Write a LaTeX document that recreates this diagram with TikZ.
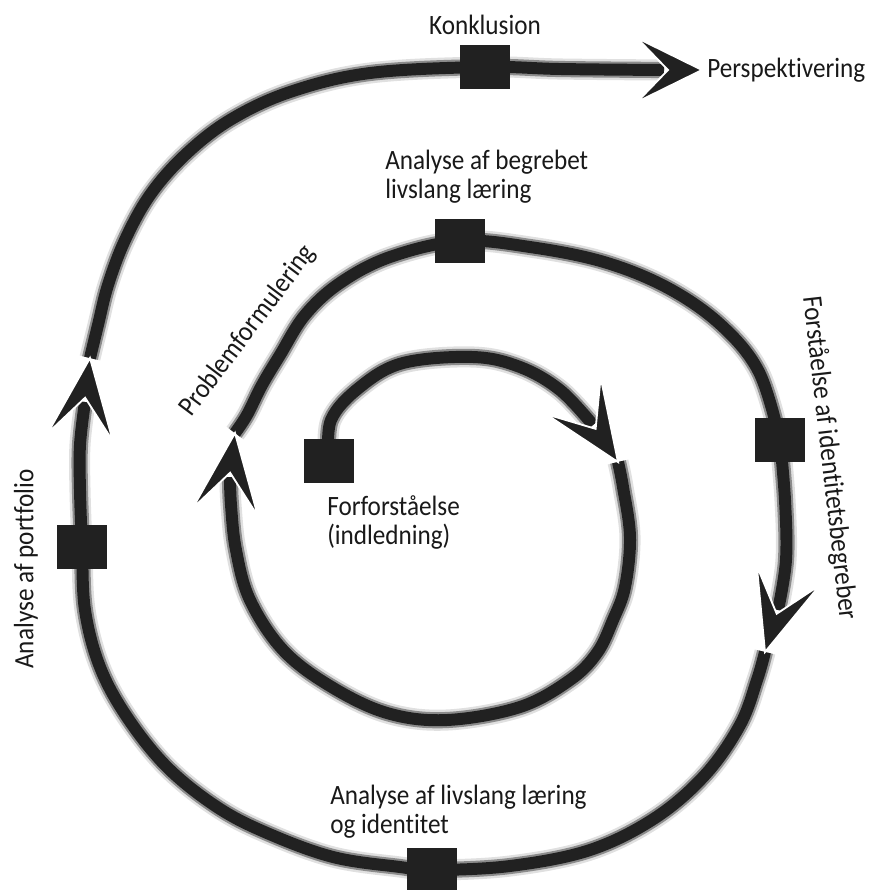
\documentclass[tikz,border=0pt]{standalone}
\usepackage{fontspec}
\newfontfamily\lblfont{Carlito}[FakeStretch=0.9, Ligatures=NoCommon]
\usetikzlibrary{calc,positioning}
\tikzset{
  track/.style={draw=black!87, line width=8.5pt,
    preaction={draw=black!12, line width=15pt},
    preaction={draw=black!45, line width=11.5pt}},
  sq/.style={fill=black!87, inner sep=0pt, minimum width=1.25cm, minimum height=1.08cm},
  lbl/.style={inner sep=0pt, text=black!90, align=left,
    font=\lblfont\fontsize{19.9}{20.6}\selectfont},
  pics/chev/.style n args={3}{code={
    \fill[black!87, draw=white, line width=1.3pt] (0,0) -- (-#1,#2) -- (-#3,0) -- (-#1,-#2) -- cycle;}}
}

\begin{document}
\begin{tikzpicture}[x=0.025cm, y=0.025cm]
\useasboundingbox (0,0) rectangle (872,-890);
% stations on the spiral
\coordinate (p0) at (329,-461);
\coordinate (p1) at (460,-241);
\coordinate (p2) at (780,-440);
\coordinate (p3) at (432,-870);
\coordinate (p4) at (82,-547);
\coordinate (p5) at (485,-67);
% arrow tips and the notches behind them
\coordinate (tA) at (618,-462);
\coordinate (tB) at (235,-433);
\coordinate (tC) at (765,-652);
\coordinate (tD) at (90,-358);
\coordinate (tE) at (702,-70);
\coordinate (nA) at (593,-425);
\coordinate (nB) at (230,-477);
\coordinate (nC) at (778,-610);
\coordinate (nD) at (85,-402);
\coordinate (nE) at (664,-70);

% the spiral
\draw[track] plot[smooth, tension=0.6] coordinates {(p0) (331,-420) (360,-387) (403,-363) (473,-357)
  (520,-367) (560,-390) (nA)};
\draw[track] plot[smooth, tension=0.6] coordinates {(tA) (623,-487) (630,-537) (625,-587) (613,-620)
  (597,-653) (570,-680) (520,-707) (447,-720) (387,-713) (330,-686) (283,-650) (250,-600) (236,-550)
  (231,-505) (nB)};
\draw[track] plot[smooth, tension=0.6] coordinates {(tB) (247,-415) (262,-385) (280,-355) (305,-315)
  (340,-283) (390,-257) (p1) (530,-247) (604,-262) (668,-288) (721,-325) (759,-372) (p2)};
\draw[track] plot[smooth, tension=0.6] coordinates {(p2) (785,-500) (786,-560) (nC)};
\draw[track] plot[smooth, tension=0.6] coordinates {(tC) (757,-680) (740,-725) (705,-775) (655,-818)
  (590,-850) (510,-866) (p3) (400,-867) (333,-857) (267,-833) (217,-807) (167,-767) (127,-717)
  (100,-667) (85,-610) (p4) (80,-490) (80,-445) (nD)};
\draw[track] plot[smooth, tension=0.6] coordinates {(tD) (98,-325) (108,-285) (125,-240) (150,-195)
  (185,-155) (230,-120) (290,-92) (370,-73) (p5) (560,-69) (nE)};

% arrow heads
\pic[rotate=-56] at (tA) {chev={80}{33}{40}};
\pic[rotate=83] at (tB) {chev={80}{33}{40}};
\pic[rotate=-107] at (tC) {chev={80}{33}{40}};
\pic[rotate=83] at (tD) {chev={80}{33}{40}};
\pic at (tE) {chev={65}{32}{34}};

% stations
\node[sq] (forfor) at (p0) {};
\node[sq] (begreb) at (p1) {};
\node[sq] (identi) at (p2) {};
\node[sq] (livsid) at (p3) {};
\node[sq] (portfo) at (p4) {};
\node[sq] (konkl) at (p5) {};

% labels
\node[lbl, anchor=base] (tkonkl) at (485,-34) {Konklusion};
\node[lbl, anchor=base west] (tpersp) at (707,-77) {Perspektivering};
\node[lbl, anchor=north west] (tbegreb) at (385,-150) {Analyse af begrebet\\livslang læring};
\node[lbl, anchor=north west] (tforfor) at (327,-495) {Forforståelse\\(indledning)};
\node[lbl, anchor=north west] (tlivsid) at (330,-785) {Analyse af livslang læring\\og identitet};
\node[lbl, rotate=90] (tportfo) at (26,-569) {Analyse af portfolio};
\node[lbl, rotate=-83.5] (tidenti) at (829,-458) {Forståelse af identitetsbegreber};
\node[lbl, rotate=53] (tproblem) at (248,-331) {Problemformulering};
\end{tikzpicture}
\end{document}
